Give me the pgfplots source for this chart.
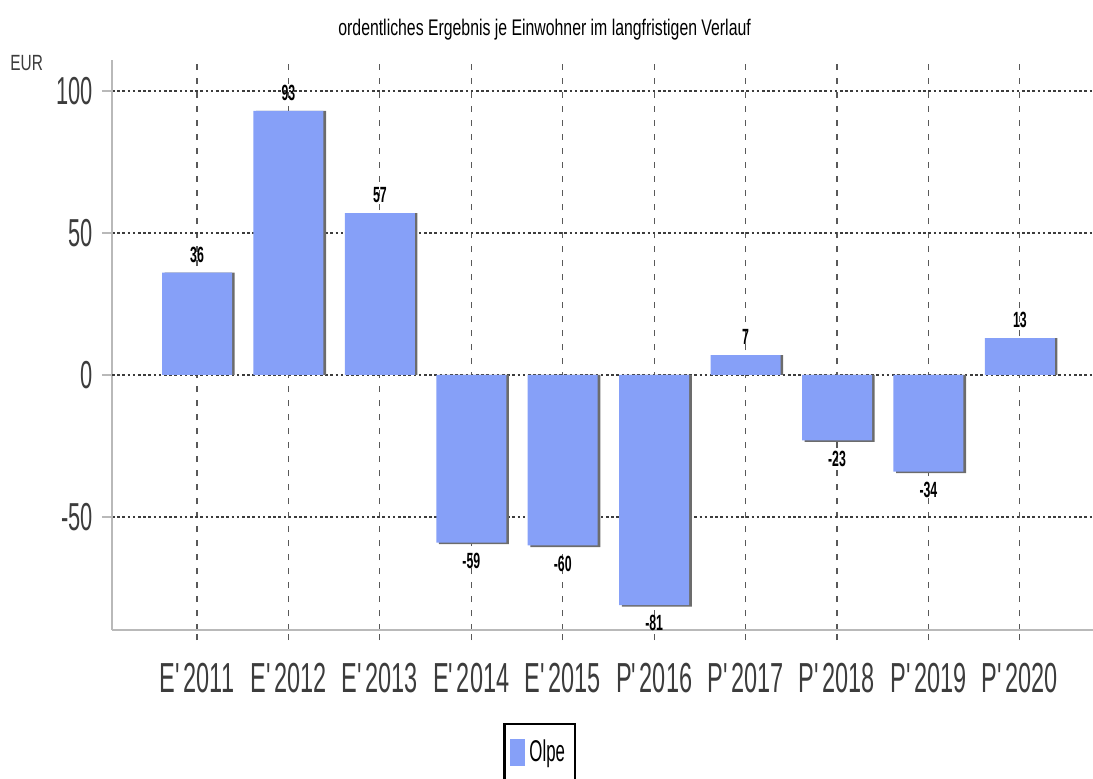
\documentclass[border=0pt]{standalone}
\usepackage{fontspec}
\setmainfont{Liberation Sans}
\newfontfamily\condA{Liberation Sans}[FakeStretch=0.56]
\newfontfamily\condT{Liberation Sans}[FakeStretch=0.70]
\usepackage{pgfplots}
\pgfplotsset{compat=1.18}
\definecolor{barblue}{RGB}{134,160,248}
\definecolor{gridgray}{RGB}{60,60,60}
\definecolor{ticktext}{RGB}{60,60,60}
\begin{document}
\begin{tikzpicture}
\useasboundingbox (0,0) rectangle (546.5pt,389pt);
\begin{axis}[
  at={(56pt,74pt)}, anchor=south west,
  scale only axis, width=490.5pt, height=285pt,
  xmin=-0.93, xmax=9.8, ymin=-89.8, ymax=110.9,
  axis x line*=bottom, axis y line*=left,
  axis line style={gray!55, line width=0.7pt},
  xtick={0,...,9},
  xticklabels={E\textquotesingle 2011,E\textquotesingle 2012,E\textquotesingle 2013,E\textquotesingle 2014,E\textquotesingle 2015,P\textquotesingle 2016,P\textquotesingle 2017,P\textquotesingle 2018,P\textquotesingle 2019,P\textquotesingle 2020},
  ytick={-50,50,100},
  extra y ticks={0},
  extra y tick style={grid style={solid, color=gridgray!85, line width=1pt}},
  grid=major,
  x grid style={gridgray!85, dash pattern=on 3pt off 4pt, line width=0.55pt},
  y grid style={gridgray, dash pattern=on 1.3pt off 1.3pt, line width=0.8pt},
  tick align=outside,
  major tick length=5pt,
  xtick style={gridgray!85, dash pattern=on 3pt off 4pt, line width=0.55pt},
  ytick style={gray!55, line width=0.6pt},
  /pgf/number format/assume math mode=true,
  xticklabel style={font=\condA\fontsize{21}{24}\selectfont, text=ticktext, yshift=-8pt},
  yticklabel style={font=\condA\fontsize{19.5}{22}\selectfont, text=ticktext, xshift=-1pt},
  legend style={at={(0.436,-0.163)}, anchor=north, draw=black, line width=1.2pt,
    font=\condA\fontsize{15}{17}\selectfont, inner xsep=3pt, inner ysep=6pt},
  legend image code/.code={\fill[barblue] (0pt,-6.75pt) rectangle (7.5pt,6.75pt);},
  clip=false,
]
\addplot[ybar, bar width=35pt, bar shift=1.3pt, fill=gray!85!black, draw=none, forget plot]
  coordinates {(0,36) (1,93) (2,57) (3,-59.6) (4,-60.6) (5,-81.6) (6,7) (7,-23.6) (8,-34.6) (9,13)};
\addplot[ybar, bar width=35pt, bar shift=0pt, fill=barblue, draw=none,
  nodes near coords, nodes near coords align=vertical,
  every node near coord/.append style={font=\condA\bfseries\fontsize{11}{13}\selectfont, text=black, inner sep=5pt}]
  coordinates {(0,36) (1,93) (2,57) (3,-59) (4,-60) (5,-81) (6,7) (7,-23) (8,-34) (9,13)};
\addlegendentry{Olpe}
\node[font=\condT\fontsize{11.3}{13}\selectfont, text=black] at (rel axis cs:0.441,1.053) {ordentliches Ergebnis je Einwohner im langfristigen Verlauf};
\node[font=\condT\fontsize{11}{13}\selectfont, text=ticktext] at (rel axis cs:-0.087,0.995) {EUR};
\end{axis}
\end{tikzpicture}
\end{document}
